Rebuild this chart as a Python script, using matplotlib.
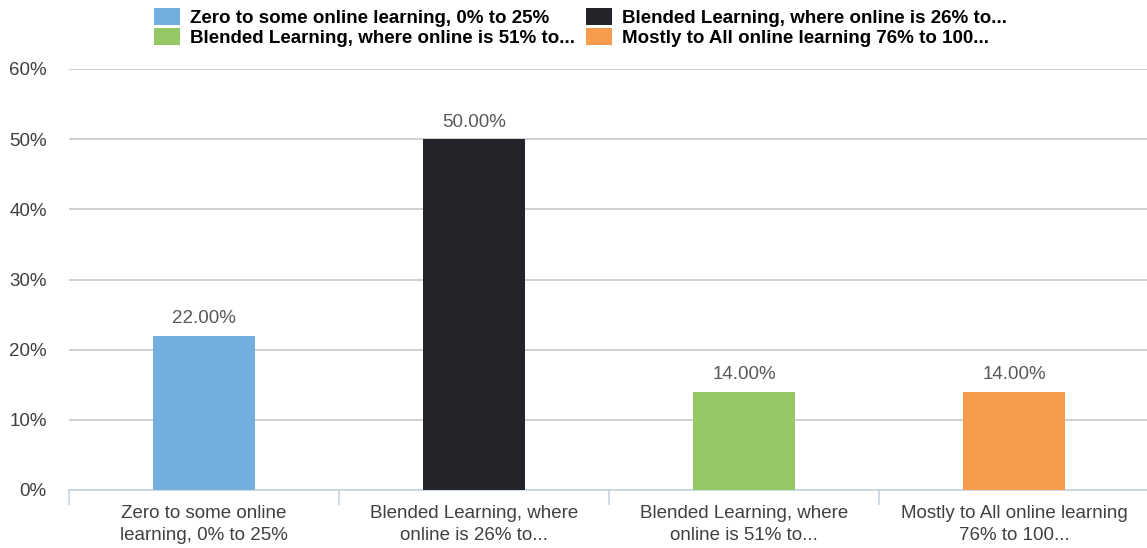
import matplotlib

matplotlib.use("Agg")
import matplotlib.pyplot as plt
from matplotlib.patches import Patch
from matplotlib.ticker import FuncFormatter, FixedLocator

# Data
categories = [
    "Zero to some online\nlearning, 0% to 25%",
    "Blended Learning, where\nonline is 26% to...",
    "Blended Learning, where\nonline is 51% to...",
    "Mostly to All online learning\n76% to 100...",
]
legend_labels = [
    "Zero to some online learning, 0% to 25%",
    "Blended Learning, where online is 26% to...",
    "Blended Learning, where online is 51% to...",
    "Mostly to All online learning 76% to 100...",
]
values = [0.22, 0.50, 0.14, 0.14]
value_labels = ["22.00%", "50.00%", "14.00%", "14.00%"]
y_ticks = [0.0, 0.1, 0.2, 0.3, 0.4, 0.5, 0.6]

colors = ["#74AEDC", "#23232A", "#93C865", "#F79C4C"]

plt.rcParams["font.family"] = ["Liberation Sans", "DejaVu Sans"]

fig = plt.figure(figsize=(11.47, 5.48), dpi=100)
ax = fig.add_axes([69 / 1147, 58 / 548, 1080 / 1147, 421 / 548])

x = list(range(len(values)))
ax.bar(x, values, width=0.38, color=colors, zorder=3)

for xi, v, lab in zip(x, values, value_labels):
    ax.annotate(
        lab,
        xy=(xi, v),
        xytext=(0, 6),
        textcoords="offset points",
        ha="center",
        va="bottom",
        fontsize=13.5,
        color="#595959",
    )

ax.set_xlim(-0.5, 3.5)
ax.set_ylim(0, 0.6)
ax.set_yticks(y_ticks)
ax.yaxis.set_major_formatter(FuncFormatter(lambda v, _: f"{v * 100:.0f}%"))
ax.tick_params(axis="y", length=0, pad=16, labelsize=13.5, labelcolor="#404040")
ax.grid(axis="y", color="#c8c8c8", linewidth=1.2, zorder=0)

# category labels centred, boundary ticks between categories
ax.set_xticks(x)
ax.set_xticklabels(categories, linespacing=1.35)
ax.tick_params(axis="x", length=0, pad=11, labelsize=13.5, labelcolor="#404040")
ax.xaxis.set_minor_locator(FixedLocator([-0.5, 0.5, 1.5, 2.5, 3.5]))
ax.tick_params(axis="x", which="minor", length=11, width=1.2, color="#c6d6e2")

for side in ["top", "right", "left"]:
    ax.spines[side].set_visible(False)
ax.spines["bottom"].set_color("#c6d6e2")
ax.spines["bottom"].set_linewidth(1.2)

# legend rows: entries 0,1 on first row, 2,3 on second
order = [0, 2, 1, 3]
handles = [Patch(facecolor=colors[i], edgecolor="none") for i in order]
fig.legend(
    handles,
    [legend_labels[i] for i in order],
    ncol=2,
    loc="upper center",
    bbox_to_anchor=(0.506, 1.016),
    frameon=False,
    prop={"size": 13.5, "weight": "bold"},
    handlelength=1.4,
    handleheight=1.0,
    handletextpad=0.5,
    columnspacing=0.6,
    labelspacing=0.05,
)

fig.savefig("out.png", dpi=100)
